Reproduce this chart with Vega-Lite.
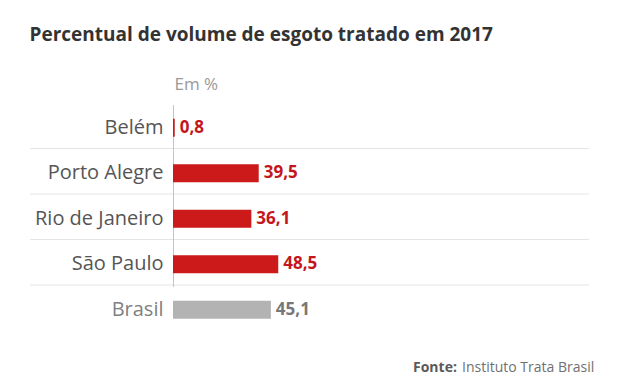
{
  "$schema": "https://vega.github.io/schema/vega-lite/v6.json",
  "width": 559,
  "height": 227.5,
  "autosize": {"type": "none"},
  "padding": {"left": 30, "top": 105, "right": 34, "bottom": 53.5},
  "background": "white",
  "title": {
    "text": "Percentual de volume de esgoto tratado em 2017",
    "anchor": "start",
    "font": "Open Sans",
    "fontWeight": 700,
    "fontSize": 19,
    "color": "#333333",
    "offset": 30
  },
  "config": {
    "view": {"stroke": null},
    "locale": {"number": {"decimal": ",", "thousands": ".", "grouping": [3], "currency": ["R$", ""]}}
  },
  "data": {
    "values": [
      {"cidade": "Belém", "valor": 0.8, "grupo": "cidade"},
      {"cidade": "Porto Alegre", "valor": 39.5, "grupo": "cidade"},
      {"cidade": "Rio de Janeiro", "valor": 36.1, "grupo": "cidade"},
      {"cidade": "São Paulo", "valor": 48.5, "grupo": "cidade"},
      {"cidade": "Brasil", "valor": 45.1, "grupo": "pais"}
    ]
  },
  "encoding": {
    "y": {
      "field": "cidade",
      "type": "nominal",
      "scale": {
        "domain": ["Belém", "Porto Alegre", "Rio de Janeiro", "São Paulo", "Brasil"],
        "paddingInner": 0,
        "paddingOuter": 0
      },
      "axis": {
        "offset": -143,
        "domain": false,
        "ticks": false,
        "grid": false,
        "labelFont": "Open Sans",
        "labelFontSize": 20,
        "labelColor": {"condition": {"test": "datum.value == 'Brasil'", "value": "#808080"}, "value": "#555555"},
        "labelPadding": 10,
        "title": "Em %",
        "titleAngle": 0,
        "titleX": 1,
        "titleY": -16,
        "titleAlign": "left",
        "titleBaseline": "alphabetic",
        "titleFont": "Open Sans",
        "titleFontSize": 17,
        "titleFontWeight": "normal",
        "titleColor": "#9a9a9a"
      }
    }
  },
  "layer": [
    {
      "transform": [{"filter": "datum.cidade != 'Belém'"}],
      "mark": {"type": "rule", "color": "#e4e4e4", "strokeWidth": 1, "yOffset": -2},
      "encoding": {
        "y": {"field": "cidade", "type": "nominal", "bandPosition": 0}
      }
    },
    {
      "transform": [{"filter": "datum.cidade != 'Brasil'"}],
      "mark": {"type": "bar", "color": "#c4c4c4", "height": {"band": 1}},
      "encoding": {
        "x": {"datum": 0, "type": "quantitative", "scale": {"domain": [-65.9, 191.7], "nice": false, "zero": false}, "axis": null},
        "x2": {"datum": 0.46}
      }
    },
    {
      "mark": {"type": "bar", "height": 18},
      "encoding": {
        "x": {"field": "valor", "type": "quantitative", "scale": {"domain": [-65.9, 191.7], "nice": false, "zero": false}, "axis": null},
        "x2": {"datum": 0},
        "color": {
          "field": "grupo",
          "type": "nominal",
          "scale": {"domain": ["cidade", "pais"], "range": ["#cc1a1a", "#b3b3b3"]},
          "legend": null
        },
        "opacity": {
          "datum": "Instituto Trata Brasil",
          "type": "ordinal",
          "scale": {"range": [1]},
          "legend": {
            "title": "Fonte:",
            "orient": "none",
            "legendX": 383,
            "legendY": 256,
            "direction": "horizontal",
            "titleOrient": "left",
            "titleFont": "Open Sans",
            "titleFontSize": 14,
            "titleFontWeight": 700,
            "titleColor": "#5a5a5a",
            "titlePadding": 0,
            "labelFont": "Open Sans",
            "labelFontSize": 14,
            "labelColor": "#707070",
            "labelOffset": -9,
            "symbolSize": 0,
            "symbolOpacity": 0,
            "symbolStrokeWidth": 0,
            "padding": 0
          }
        }
      }
    },
    {
      "mark": {"type": "text", "align": "left", "baseline": "middle", "dx": 5, "font": "Open Sans", "fontWeight": 700, "fontSize": 17},
      "encoding": {
        "x": {"field": "valor", "type": "quantitative", "scale": {"domain": [-65.9, 191.7], "nice": false, "zero": false}, "axis": null},
        "text": {"field": "valor", "type": "quantitative", "format": ".1f"},
        "fill": {
          "field": "grupo",
          "type": "nominal",
          "scale": {"domain": ["cidade", "pais"], "range": ["#c4161c", "#777777"]},
          "legend": null
        }
      }
    }
  ]
}
